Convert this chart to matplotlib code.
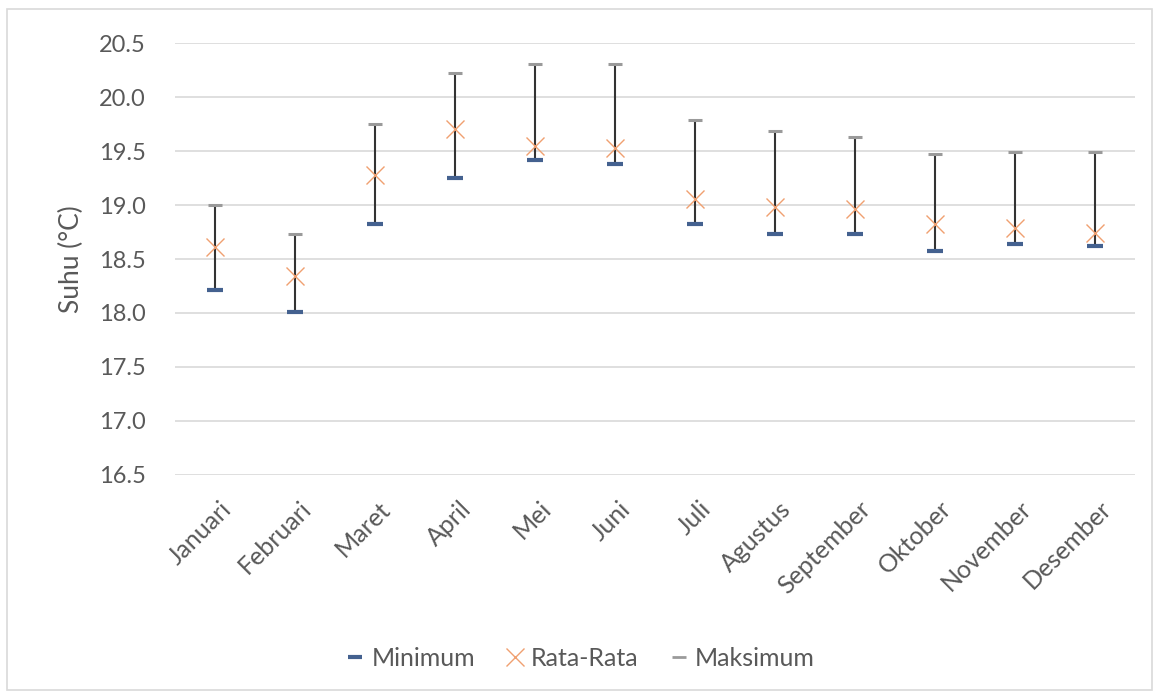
import matplotlib
matplotlib.use("Agg")
import matplotlib.pyplot as plt
import matplotlib.transforms as mtransforms
from matplotlib.lines import Line2D
from matplotlib.patches import Rectangle

# Data
bulan = ["Januari", "Februari", "Maret", "April", "Mei", "Juni",
         "Juli", "Agustus", "September", "Oktober", "November", "Desember"]
suhu_min = [18.21, 18.01, 18.82, 19.25, 19.42, 19.38,
            18.82, 18.73, 18.73, 18.57, 18.64, 18.62]
suhu_rata = [18.61, 18.34, 19.28, 19.71, 19.55, 19.53,
             19.06, 18.98, 18.96, 18.82, 18.79, 18.74]
suhu_max = [19.00, 18.73, 19.75, 20.22, 20.31, 20.31,
            19.79, 19.69, 19.63, 19.47, 19.49, 19.49]
y_ticks = [16.5, 17.0, 17.5, 18.0, 18.5, 19.0, 19.5, 20.0, 20.5]

plt.rcParams['font.family'] = ['Lato', 'DejaVu Sans']
text_color = '#595959'
blue = '#44618f'
orange = '#f0a070'
gray = '#9a9a9a'

W, H = 1158, 697
fig = plt.figure(figsize=(W / 100, H / 100), dpi=100)
fig.patch.set_facecolor('white')

# chart area border
fig.add_artist(Rectangle((7 / W, 1 - 690 / H), (1152 - 7) / W, (690 - 9) / H,
                         transform=fig.transFigure, fill=False,
                         edgecolor='#d9d9d9', linewidth=1.2))

ax = fig.add_axes([175 / W, 1 - 474.7 / H, (1135 - 175) / W, (474.7 - 43.3) / H])
x = list(range(len(bulan)))

# high-low lines
ax.vlines(x, suhu_min, suhu_max, color='#333333', linewidth=1.5, zorder=3)
ax.plot(x, suhu_min, linestyle='none', marker='_', markersize=11,
        markeredgewidth=3, color=blue, zorder=4)
ax.plot(x, suhu_max, linestyle='none', marker='_', markersize=10,
        markeredgewidth=2.2, color=gray, zorder=4)
ax.plot(x, suhu_rata, linestyle='none', marker='x', markersize=13,
        markeredgewidth=1.0, color=orange, zorder=5)

ax.set_xlim(-0.5, len(bulan) - 0.5)
ax.set_ylim(16.5, 20.5)
ax.set_yticks(y_ticks)
ax.set_yticklabels([f"{v:.1f}" for v in y_ticks])
ax.yaxis.grid(True, color='#d9d9d9', linewidth=1.2)
ax.set_axisbelow(True)
for s in ax.spines.values():
    s.set_visible(False)
ax.tick_params(length=0, labelcolor=text_color)
ax.tick_params(axis='y', labelsize=17, pad=21)

ax.set_xticks(x)
ax.set_xticklabels(bulan, rotation=45, ha='right', va='top',
                   rotation_mode='anchor', fontsize=18, color=text_color)
ax.tick_params(axis='x', pad=16)
shift = mtransforms.ScaledTranslation(0.04, 0, fig.dpi_scale_trans)
for lbl in ax.get_xticklabels():
    lbl.set_transform(lbl.get_transform() + shift)

ax.set_ylabel("Suhu (°C)", fontsize=19, color=text_color)
ax.yaxis.set_label_coords((84 - 175) / 960, 0.5)

handles = [
    Line2D([], [], linestyle='none', marker='_', markersize=10,
           markeredgewidth=3, color=blue),
    Line2D([], [], linestyle='none', marker='x', markersize=13,
           markeredgewidth=1.0, color=orange),
    Line2D([], [], linestyle='none', marker='_', markersize=10,
           markeredgewidth=2, color=gray),
]
fig.legend(handles, ["Minimum", "Rata-Rata", "Maksimum"],
           loc='center', bbox_to_anchor=(580 / W, 1 - 658 / H), ncol=3,
           frameon=False, fontsize=18, labelcolor=text_color,
           handlelength=0.8, handletextpad=0.25, columnspacing=1.2)

fig.savefig("out.png", dpi=100, facecolor=fig.get_facecolor())
